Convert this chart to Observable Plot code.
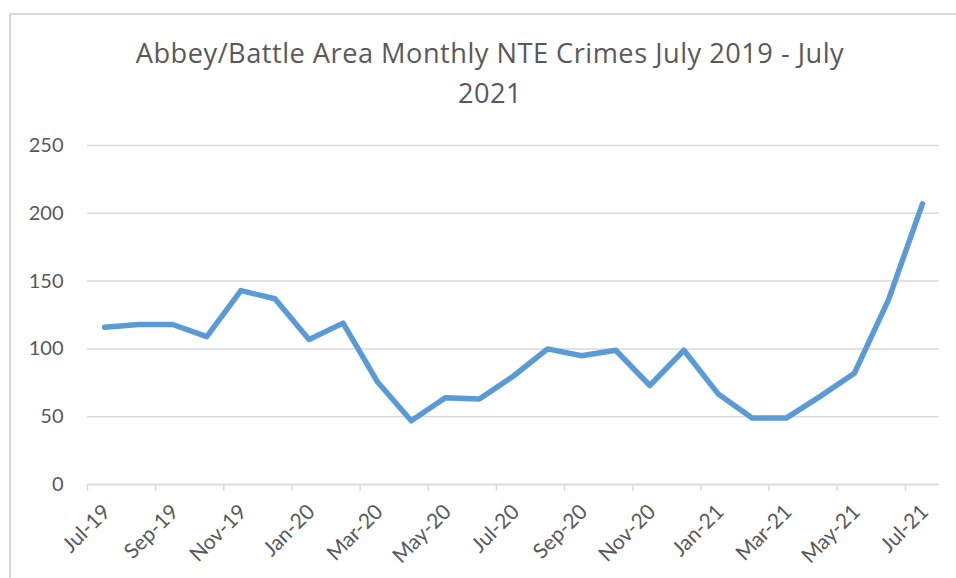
<!DOCTYPE html>
<html><head><meta charset="utf-8">
<script src="https://cdn.jsdelivr.net/npm/d3@7"></script>
<script src="https://cdn.jsdelivr.net/npm/@observablehq/plot@0.6"></script>
<style>
html,body{margin:0;padding:0;background:#fff;}
#chart{position:relative;width:956px;height:578px;overflow:hidden;font-family:Lato,sans-serif;}
#frame{position:absolute;left:9px;top:13px;width:1000px;height:1000px;border-left:2px solid #d9d9d9;border-top:2px solid #d9d9d9;}
#title{position:absolute;left:0;width:980px;top:33px;text-align:center;font-family:"Open Sans",sans-serif;font-size:27.2px;letter-spacing:0.5px;line-height:40px;color:#595959;}
#chart svg{position:absolute;left:0;top:0;}
</style></head><body>
<div id="chart"><div id="frame"></div><div id="title">Abbey/Battle Area Monthly NTE Crimes July 2019 - July<br>2021</div></div>
<script>
const months = ["Jul-19","Aug-19","Sep-19","Oct-19","Nov-19","Dec-19","Jan-20","Feb-20","Mar-20","Apr-20","May-20","Jun-20","Jul-20","Aug-20","Sep-20","Oct-20","Nov-20","Dec-20","Jan-21","Feb-21","Mar-21","Apr-21","May-21","Jun-21","Jul-21"];
const crimes = [116,118,118,109,143,137,107,119,76,47,64,63,80,100,95,99,73,99,67,49,49,65,82,136,207];
const yTicks = [0,50,100,150,200,250];

const data = months.map((m, i) => ({i, month: m, crimes: crimes[i]}));
const labelIdx = months.map((m, i) => i).filter(i => i % 2 === 0);
const tickPos = labelIdx.map(i => i - 0.5);

const chart = Plot.plot({
  width: 956, height: 578,
  marginLeft: 87, marginRight: 17, marginTop: 145, marginBottom: 94,
  style: {fontFamily: "Lato, sans-serif", fontSize: "20px", color: "#595959", background: "transparent", overflow: "visible"},
  x: {type: "linear", domain: [-0.5, months.length - 0.5]},
  y: {domain: [0, 250]},
  marks: [
    Plot.gridY(yTicks, {stroke: "#d9d9d9", strokeOpacity: 1, strokeWidth: 1.5}),
    Plot.axisY(yTicks, {tickSize: 0, tickPadding: 24, label: null, fontSize: 20}),
    Plot.ruleY([0], {stroke: "#d9d9d9", strokeWidth: 1.5}),
    Plot.axisX(tickPos, {tickSize: 7, stroke: "#d9d9d9", strokeOpacity: 1, strokeWidth: 1.5, tickFormat: () => "", label: null}),
    Plot.axisX(labelIdx, {tickSize: 0, tickPadding: 18, dx: -3.5, tickFormat: i => months[i], rotate: -45, textAnchor: "end", lineAnchor: "top", label: null, fontSize: 21}),
    Plot.line(data, {x: "i", y: "crimes", stroke: "#5b9bd5", strokeWidth: 5.5, strokeLinecap: "round", strokeLinejoin: "round"})
  ]
});
document.getElementById("chart").appendChild(chart);
</script>
</body></html>
